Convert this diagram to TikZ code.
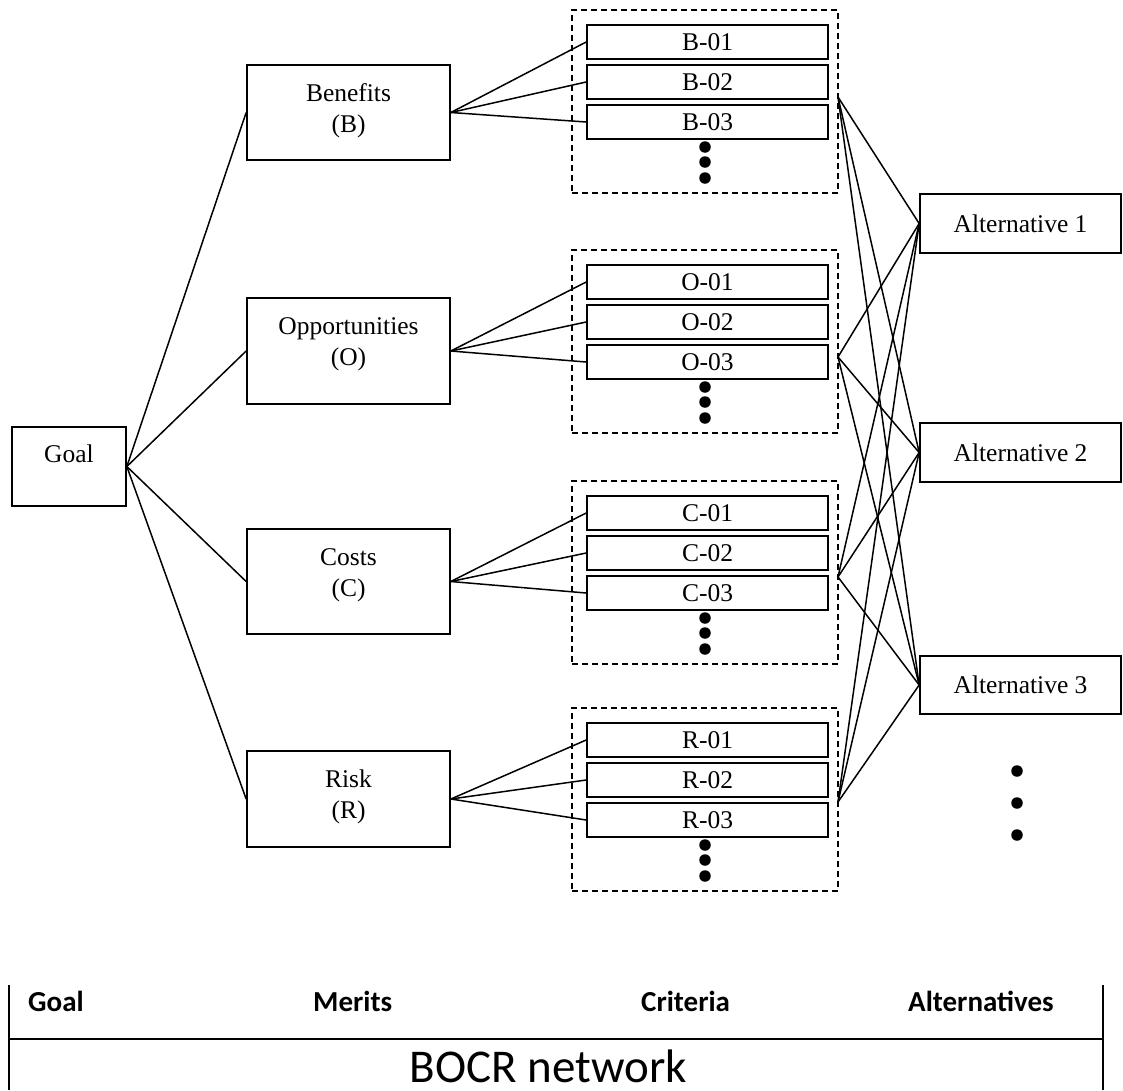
\documentclass[tikz,border=0pt]{standalone}
\usepackage{fontspec}
\setmainfont{Liberation Serif}
\newfontfamily\calib{Carlito}
\begin{document}
\begin{tikzpicture}[x=1pt,y=-1pt,
  box/.style={draw, line width=1.7pt, inner sep=0pt},
  txt/.style={inner sep=0pt, font=\fontsize{25.5}{30}\selectfont},
  merit/.style={box, minimum width=203pt},
  crit/.style={box, minimum width=241pt, minimum height=34pt, font=\fontsize{25.5}{30}\selectfont},
  grp/.style={draw, dashed, dash pattern=on 6pt off 4pt, line width=1.4pt, minimum width=266pt, minimum height=183pt, inner sep=0pt},
  alt/.style={box, minimum width=201pt, minimum height=59pt, font=\fontsize{25.5}{30}\selectfont},
  conn/.style={line width=1.5pt},
  dot/.style={circle, fill=black, inner sep=0pt, minimum size=11.5pt},
  lab/.style={inner sep=0pt, anchor=base west, font=\calib\bfseries\fontsize{29}{34}\selectfont},
  tab/.style={line width=1.8pt}
]
\useasboundingbox (0,0) rectangle (1123,1090);

% Goal
\node[box, minimum width=114pt, minimum height=79pt] (goal) at (69,466.5) {};
\node[txt, anchor=base] (goalt) at (69,462) {Goal};

% Merits
\node[merit, minimum height=95pt] (ben) at (348.5,112.5) {};
\node[txt, anchor=base] (bent1) at (348.5,101) {Benefits};
\node[txt, anchor=base] (bent2) at (348.5,132) {(B)};
\node[merit, minimum height=106pt] (opp) at (348.5,351) {};
\node[txt, anchor=base] (oppt1) at (348.5,334) {Opportunities};
\node[txt, anchor=base] (oppt2) at (348.5,365) {(O)};
\node[merit, minimum height=105pt] (cos) at (348.5,581.5) {};
\node[txt, anchor=base] (cost1) at (348.5,565) {Costs};
\node[txt, anchor=base] (cost2) at (348.5,596) {(C)};
\node[merit, minimum height=96pt] (ris) at (348.5,799) {};
\node[txt, anchor=base] (rist1) at (348.5,787) {Risk};
\node[txt, anchor=base] (rist2) at (348.5,818) {(R)};

% Criteria groups
\foreach \g/\t/\m/\o in {B/10/ben/97, O/250/opp/357, C/481/cos/577, R/708/ris/802}{
  \node[grp] (\g grp) at (705,\t+91.5) {};
  \node[crit] (\g1) at (707.5,\t+32) {\g-01};
  \node[crit] (\g2) at (707.5,\t+72) {\g-02};
  \node[crit] (\g3) at (707.5,\t+112) {\g-03};
  \node[dot] (\g d1) at (705,\t+137) {};
  \node[dot] (\g d2) at (705,\t+152) {};
  \node[dot] (\g d3) at (705,\t+168) {};
  \coordinate (\g out) at (838,\o);
  \draw[conn] (\m.east) -- (\g1.west);
  \draw[conn] (\m.east) -- (\g2.west);
  \draw[conn] (\m.east) -- (\g3.west);
}

% Goal to merits
\foreach \m in {ben,opp,cos,ris}{
  \draw[conn] (goal.east) -- (\m.west);
}

% Alternatives
\node[alt] (a1) at (1020.5,223.5) {Alternative 1};
\node[alt] (a2) at (1020.5,452.5) {Alternative 2};
\node[alt, minimum height=58pt] (a3) at (1020.5,685) {Alternative 3};
\node[dot] (ad1) at (1017,771) {};
\node[dot] (ad2) at (1017,803) {};
\node[dot] (ad3) at (1017,835) {};

\foreach \g in {B,O,C,R}{
  \foreach \a in {a1,a2,a3}{
    \draw[conn] (\g out) -- (\a.west);
  }
}

% Bottom table
\coordinate (tl) at (9,985);
\coordinate (tr) at (1103,985);
\coordinate (bl) at (9,1090);
\coordinate (br) at (1103,1090);
\coordinate (ml) at (9,1039);
\coordinate (mr) at (1103,1039);
\draw[tab] (tl) -- (bl);
\draw[tab] (tr) -- (br);
\draw[tab] (ml) -- (mr);
\node[lab] (lgoal) at (28,1011) {Goal};
\node[lab] (lmer) at (313,1011) {Merits};
\node[lab] (lcri) at (641,1011) {Criteria};
\node[lab] (lalt) at (908,1011) {Alternatives};
\node[inner sep=0pt, anchor=base, font=\calib\fontsize{47}{54}\selectfont] (bocr) at (548.5,1082) {BOCR network};
\end{tikzpicture}
\end{document}
